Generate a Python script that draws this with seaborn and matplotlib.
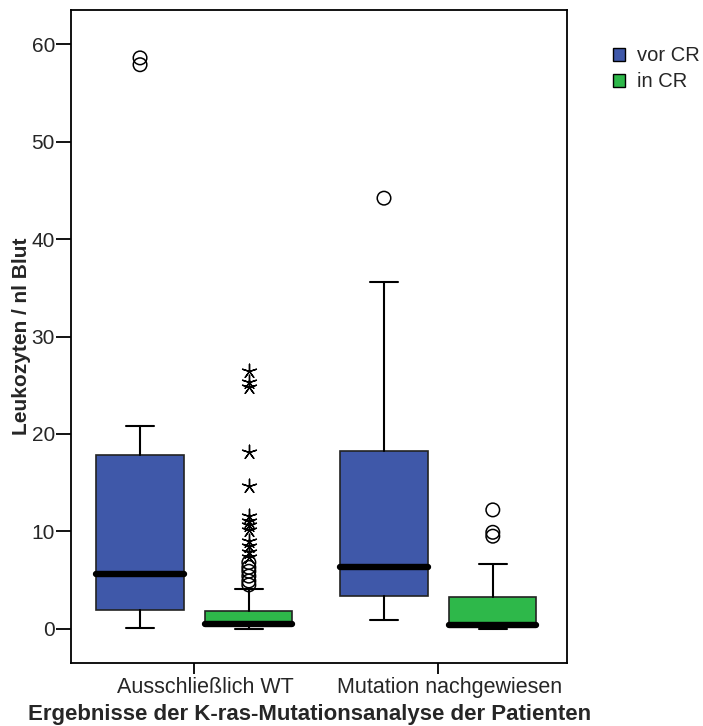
import numpy as np
import pandas as pd
import matplotlib.pyplot as plt
import matplotlib.patches as mpatches
import matplotlib.transforms as mtransforms
import seaborn as sb

# Leukocyte counts before / during CR, split by K-ras result
groups = ["Ausschließlich WT", "Mutation nachgewiesen"]
phases = ["vor CR", "in CR"]
phase_colors = ["#3F58A9", "#2EB84A"]

# box order: (WT, vor CR), (WT, in CR), (Mutation, vor CR), (Mutation, in CR)
whisker_low = [0.1, 0.0, 0.9, 0.0]
quart_1 = [1.9, 0.3, 3.4, 0.3]
medians = [5.6, 0.5, 6.3, 0.4]
quart_3 = [17.8, 1.8, 18.2, 3.3]
whisker_high = [20.8, 4.1, 35.6, 6.6]

# outliers (circles) and extreme values (stars)
outliers_wt_vor = [57.9, 58.6]
outliers_wt_in = [4.5, 4.9, 5.4, 5.9, 6.3, 6.8]
outliers_mut_vor = [44.2]
outliers_mut_in = [9.5, 9.9, 12.2]
extremes_wt_in = [7.4, 7.9, 8.5, 9.0, 10.1, 10.6, 11.1, 11.6, 14.7, 18.1, 24.8, 25.3, 26.5]

sb.set_style("ticks")
plt.rcParams['font.family'] = ['Liberation Sans', 'DejaVu Sans']

fig = plt.figure(figsize=(7.03, 7.26), dpi=100)
ax = fig.add_axes([0.101, 0.087, 0.7055, 0.899])

dodge = 0.223
box_width = 0.357
box_keys = [(g, p) for g in range(len(groups)) for p in range(len(phases))]
positions = [g + (-dodge if p == 0 else dodge) for g, p in box_keys]

stats = []
for k in range(len(box_keys)):
    stats.append(dict(whislo=whisker_low[k], q1=quart_1[k], med=medians[k],
                      q3=quart_3[k], whishi=whisker_high[k], fliers=[]))

bp = ax.bxp(stats, positions=positions, widths=box_width, capwidths=0.115,
            patch_artist=True, showfliers=False, manage_ticks=False,
            boxprops=dict(edgecolor="#222222", linewidth=1.2),
            whiskerprops=dict(color="black", linewidth=1.5),
            capprops=dict(color="black", linewidth=1.5),
            medianprops=dict(color="black", linewidth=4.6, solid_capstyle="round"))
for k, (g, p) in enumerate(box_keys):
    bp['boxes'][k].set_facecolor(phase_colors[p])

# outlier points
rows = []
for vals, g, p, kind in [(outliers_wt_vor, 0, 0, "o"), (outliers_wt_in, 0, 1, "o"),
                         (outliers_mut_vor, 1, 0, "o"), (outliers_mut_in, 1, 1, "o"),
                         (extremes_wt_in, 0, 1, "*")]:
    for v in vals:
        rows.append(dict(pos=g + (-dodge if p == 0 else dodge), value=v, kind=kind))
pts = pd.DataFrame(rows)

sb.scatterplot(data=pts[pts["kind"] == "o"], x="pos", y="value", marker="o", s=95,
               facecolors="none", edgecolor="black", linewidth=1.1, ax=ax, legend=False, zorder=3)
sb.scatterplot(data=pts[pts["kind"] == "*"], x="pos", y="value", marker=(5, 2, 0), s=110,
               color="black", linewidth=1.0, ax=ax, legend=False, zorder=3)

ax.set_xlim(-0.506, 1.527)
ax.set_ylim(-3.5, 63.5)
ax.set_xticks(range(len(groups)))
ax.set_xticklabels(groups, fontsize=15.5)
ax.set_yticks(np.arange(0, 61, 10))
ax.tick_params(axis="y", labelsize=15, length=10.5, width=1.3, pad=1, color="black")
ax.tick_params(axis="x", length=8, width=1.3, pad=2.5, color="black")
# category labels sit a little right of their tick, as in the original
shift = mtransforms.ScaledTranslation(0.11, 0, fig.dpi_scale_trans)
for lab in ax.get_xticklabels():
    lab.set_transform(lab.get_transform() + shift)
for s in ax.spines.values():
    s.set_linewidth(1.3)
    s.set_color("black")

ax.set_xlabel("Ergebnisse der K-ras-Mutationsanalyse der Patienten", fontsize=16,
              fontweight="bold")
ax.xaxis.set_label_coords(0.482, -0.0625)
ax.set_ylabel("Leukozyten / nl Blut", fontsize=15, fontweight="bold", labelpad=0.5)

handles = [mpatches.Patch(facecolor=c, edgecolor="black", linewidth=1.0, label=l)
           for c, l in zip(phase_colors, phases)]
fig.legend(handles=handles, loc="upper left", bbox_to_anchor=(0.858, 0.95), frameon=False,
           fontsize=14.5, handlelength=0.6, handleheight=0.6, handletextpad=0.6,
           labelspacing=0.35, borderpad=0)

fig.savefig("out.png", dpi=100)
